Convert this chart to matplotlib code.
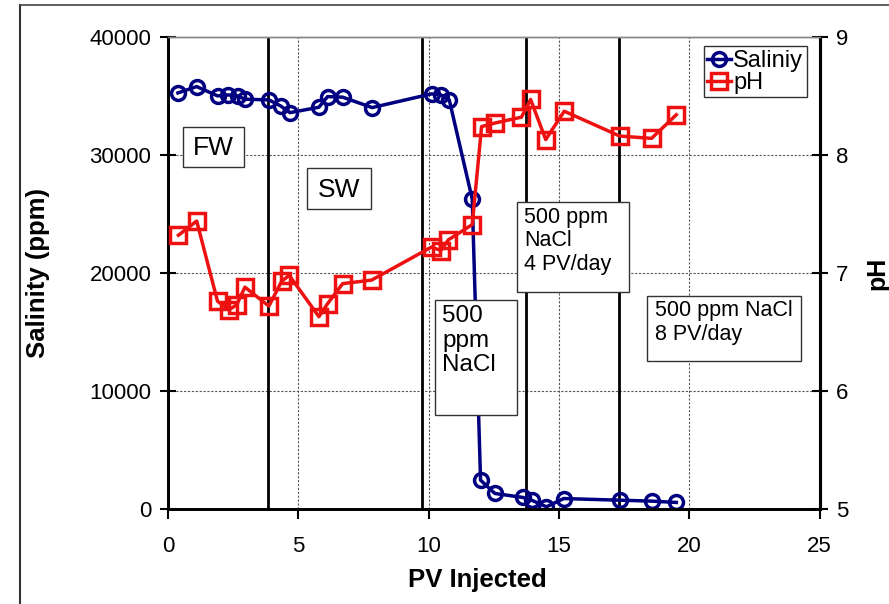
import matplotlib
matplotlib.use("Agg")
import matplotlib.pyplot as plt
from matplotlib.lines import Line2D
from matplotlib.patches import Rectangle

plt.rcParams['font.family'] = ['Liberation Sans', 'DejaVu Sans']

# Salinity data (ppm) vs PV injected
sal_pv = [0.38, 1.10, 1.90, 2.31, 2.67, 2.95, 3.87, 4.32, 4.68, 5.79, 6.12, 6.70, 7.83,
          10.11, 10.47, 10.79, 11.67, 11.99, 12.54, 13.62, 13.95, 14.52, 15.18, 17.33,
          18.57, 19.50]
salinity = [35250, 35790, 35000, 35080, 35000, 34720, 34660, 34150, 33580, 34040, 34940,
            34890, 34010, 35170, 35080, 34660, 26270, 2460, 1330, 990, 760, 200, 900, 760,
            680, 570]

# pH data vs PV injected
ph_pv = [0.40, 1.10, 1.90, 2.35, 2.63, 2.95, 3.87, 4.36, 4.65, 5.79, 6.12, 6.70, 7.81,
         10.11, 10.47, 10.75, 11.67, 12.03, 12.54, 13.56, 13.91, 14.49, 15.20, 17.33,
         18.55, 19.50]
ph = [7.32, 7.44, 6.76, 6.69, 6.73, 6.88, 6.72, 6.93, 6.98, 6.63, 6.74, 6.91, 6.94,
      7.22, 7.19, 7.28, 7.41, 8.24, 8.27, 8.32, 8.47, 8.13, 8.37, 8.16, 8.14, 8.34]

# phase boundaries
boundaries = [3.85, 9.73, 13.75, 17.30]

fig = plt.figure(figsize=(8.89, 6.04), dpi=100)
ax = fig.add_axes([0.189, 0.157, 0.733, 0.782])
ax2 = ax.twinx()

blue = '#000080'
red = '#ee1111'

for b in boundaries:
    ax.axvline(b, color='black', lw=2, zorder=2)

l1, = ax.plot(sal_pv, salinity, color=blue, lw=2.5, marker='o', ms=10, mfc='none',
              mew=2.5, label='Saliniy', zorder=5)
l2, = ax2.plot(ph_pv, ph, color=red, lw=2.5, marker='s', ms=11, mfc='none',
               mew=2.5, label='pH', zorder=5)

ax.set_xlim(0, 25)
ax.set_ylim(0, 40000)
ax2.set_ylim(5, 9)
ax.set_xticks([0, 5, 10, 15, 20, 25])
ax.set_yticks([0, 10000, 20000, 30000, 40000])
ax2.set_yticks([5, 6, 7, 8, 9])

ax.grid(True, linestyle=(0, (2, 1.5)), color='#555555', lw=0.8)
ax.set_axisbelow(True)

ax.tick_params(axis='x', direction='out', length=7, width=1.5, labelsize=16, pad=12)
ax.tick_params(axis='y', direction='inout', length=12, width=1.5, labelsize=16, pad=6)
ax2.tick_params(axis='y', direction='inout', length=12, width=1.5, labelsize=16, pad=6)

for a in (ax, ax2):
    a.spines['left'].set_linewidth(2)
    a.spines['bottom'].set_linewidth(2)
    a.spines['right'].set_linewidth(2.2)
    a.spines['top'].set_color('#888888')
    a.spines['top'].set_linewidth(1)

ax.set_xlabel('PV Injected', fontsize=18.5, fontweight='bold', labelpad=10)
ax.xaxis.set_label_coords(0.475, -0.125)
ax.set_ylabel('Salinity (ppm)', fontsize=18.5, fontweight='bold', labelpad=28)
ax2.set_ylabel('pH', fontsize=18, fontweight='bold', rotation=90, labelpad=12)

# annotation boxes (axes fraction)
def box(x0, y0, x1, y1, text, tx, ty, size, ha='left', va='top'):
    ax.add_patch(Rectangle((x0, y0), x1 - x0, y1 - y0, transform=ax.transAxes,
                           facecolor='white', edgecolor='#333333', lw=1, zorder=6))
    ax.text(tx, ty, text, transform=ax.transAxes, fontsize=size, ha=ha, va=va,
            zorder=7, linespacing=1.15)

box(0.0225, 0.725, 0.117, 0.810, 'FW', 0.070, 0.765, 19, ha='center', va='center')
box(0.213, 0.635, 0.312, 0.722, 'SW', 0.262, 0.676, 19, ha='center', va='center')
box(0.4095, 0.199, 0.536, 0.443, '500\nppm\nNaCl', 0.421, 0.432, 17.5)
box(0.535, 0.459, 0.7075, 0.651, '500 ppm\nNaCl\n4 PV/day', 0.547, 0.640, 15.5)
box(0.735, 0.3136, 0.972, 0.452, '500 ppm NaCl\n8 PV/day', 0.748, 0.442, 15.5)

leg = ax2.legend([l1, l2], ['Saliniy', 'pH'], loc='upper right',
                 bbox_to_anchor=(0.98, 0.98), fontsize=17, handlelength=1.0,
                 handletextpad=0.1, borderpad=0.15, labelspacing=0.0,
                 fancybox=False, framealpha=1, borderaxespad=0)
leg.get_frame().set_edgecolor('#333333')
leg.get_frame().set_linewidth(1)
leg.set_zorder(10)

# outer frame of the original figure
fig.add_artist(Line2D([20 / 889, 20 / 889], [0, 1 - 5 / 604], color='#333333', lw=1.5))
fig.add_artist(Line2D([20 / 889, 1], [1 - 5 / 604, 1 - 5 / 604], color='#444444', lw=1.2))

fig.savefig('out.png', dpi=100)
